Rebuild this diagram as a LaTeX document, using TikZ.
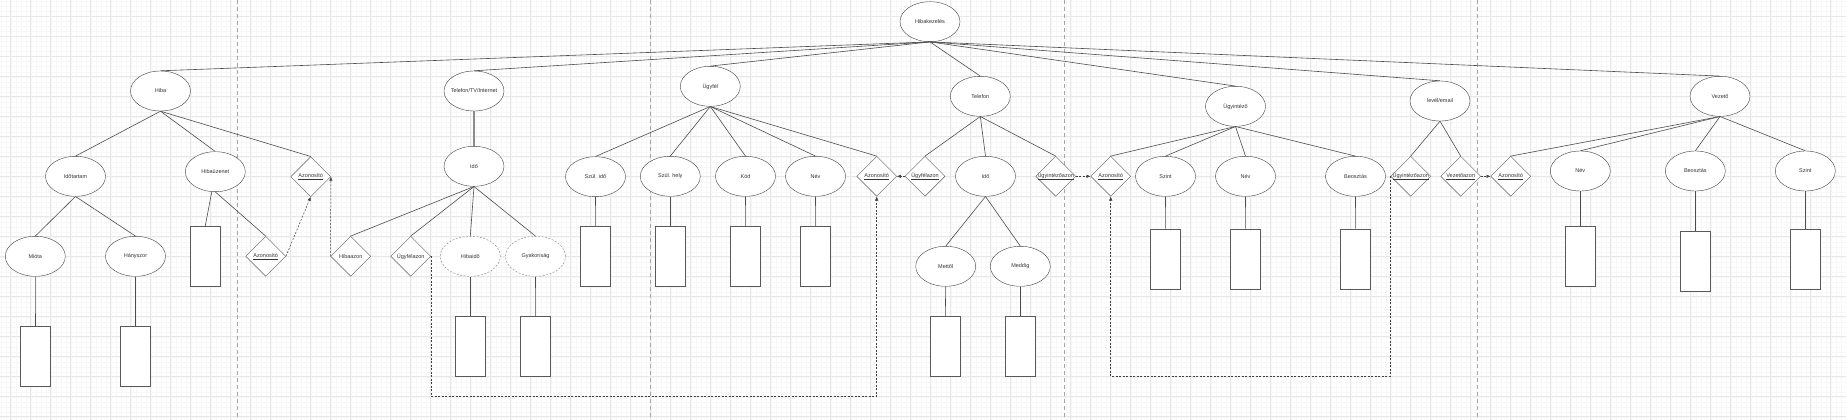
\documentclass[tikz,border=0pt]{standalone}
\usepackage{fontspec}
\setmainfont{Liberation Sans}
\usetikzlibrary{shapes.geometric, arrows.meta}
\newcommand{\nolen}[1]{\makebox[0pt]{#1}}

\begin{document}
\begin{tikzpicture}[
    x=1pt, y=-1pt,
    every node/.style={font=\fontsize{5.5}{6}\selectfont, text=black!80},
    ent/.style={ellipse, draw=black!75, fill=white, minimum width=60pt, minimum height=40pt, inner sep=0pt},
    dent/.style={ent, draw=black!50, dash pattern=on 2pt off 1.5pt},
    rel/.style={diamond, draw=black!65, fill=white, minimum width=40pt, minimum height=40pt, inner sep=0pt},
    attr/.style={rectangle, draw=black!65, fill=white, minimum width=30pt, minimum height=60pt, inner sep=0pt},
    link/.style={draw=black!70, line width=0.6pt},
    refarrow/.style={-{Latex[length=4pt,width=3.5pt]}, draw=black!75, line width=0.5pt, dash pattern=on 2pt off 1.5pt}
  ]
    % background grid and page breaks
    \useasboundingbox (0,0) rectangle (1846,420);
    \fill[white] (0,0) rectangle (1846,420);
    \foreach \gx in {0.7,5.7,...,1846} \draw[black!3, line width=0.4pt] (\gx,0) -- (\gx,420);
    \foreach \gy in {1.7,6.7,...,420} \draw[black!3, line width=0.4pt] (0,\gy) -- (1846,\gy);
    \foreach \gx in {10.7,30.7,...,1846} \draw[black!9, line width=0.5pt] (\gx,0) -- (\gx,420);
    \foreach \gy in {16.7,36.7,...,420} \draw[black!9, line width=0.5pt] (0,\gy) -- (1846,\gy);
    \foreach \px in {237.3,650,1064.3,1477.3} \draw[black!35, line width=0.5pt, dash pattern=on 4pt off 3pt] (\px,0) -- (\px,420);

    % entities
    \node[ent] (hk) at (930,21.7) {Hibakezelés};
    \node[ent] (hiba) at (160.5,91) {Hiba};
    \node[ent] (tti) at (474,91) {\nolen{Telefon/TV/Internet}};
    \node[ent] (ugyfel) at (710.3,86.3) {Ügyfél};
    \node[ent] (telefon) at (980.3,96.3) {Telefon};
    \node[ent] (ugyint) at (1235.5,106.3) {Ügyintéző};
    \node[ent] (level) at (1440,101) {levél/email};
    \node[ent] (vezeto) at (1720,96.3) {Vezető};

    % Hiba
    \node[ent] (idotartam) at (75.5,176.3) {Időtartam};
    \node[ent] (hibauz) at (215.3,171.7) {Hibaüzenet};
    \node[rel] (azhiba) at (310.7,176.7) {\underline{Azonosító}};
    \node[ent] (miota) at (35.3,256.3) {Mióta};
    \node[ent] (hanyszor) at (135.5,256.3) {Hányszor};
    \node[attr] (miotabox) at (35.5,356.3) {};
    \node[attr] (hanyszorbox) at (135.5,356.3) {};
    \node[attr] (hibauzbox) at (205.3,256) {};
    \node[rel] (azhibauz) at (265.7,256.3) {\underline{Azonosító}};

    % Telefon/TV/Internet
    \node[ent] (ido) at (474,166.3) {Idő};
    \node[rel] (hibaazon) at (350.7,256.3) {Hibaazon};
    \node[rel] (ugyfazon) at (410.7,256.3) {Ügyfélazon};
    \node[dent] (hibaido) at (470.3,256.3) {Hibaidő};
    \node[dent] (gyakorisag) at (535.5,256.3) {Gyakoriság};
    \node[attr] (hibaidobox) at (470.3,346.3) {};
    \node[attr] (gyakbox) at (535.3,346.3) {};

    % Ügyfél
    \node[ent] (szulido) at (595.5,176.7) {Szül. idő};
    \node[ent] (szulhely) at (670.3,176.3) {Szül. hely};
    \node[ent] (kod) at (745.5,176.3) {Kód};
    \node[ent] (nev) at (815.5,176.3) {Név};
    \node[rel] (azugyfel) at (876.7,176.3) {\underline{Azonosító}};
    \node[attr] (szulidobox) at (595.3,256) {};
    \node[attr] (szulhelybox) at (670.3,256) {};
    \node[attr] (kodbox) at (745.3,256) {};
    \node[attr] (nevbox) at (815.3,256) {};

    % Telefon
    \node[rel] (telugyf) at (925,176.3) {\underline{Ügyfélazon}};
    \node[ent] (telido) at (985.5,176.3) {Idő};
    \node[rel] (telugyint) at (1055.7,176.3) {\nolen{\underline{Ügyintézőazon}}};
    \node[ent] (mettol) at (945.7,266.3) {Mettől};
    \node[ent] (meddig) at (1020.3,266.3) {Meddig};
    \node[attr] (mettolbox) at (945.3,346.3) {};
    \node[attr] (meddigbox) at (1020.3,346.3) {};

    % Ügyintéző
    \node[rel] (azugyint) at (1110.7,176.3) {\underline{Azonosító}};
    \node[ent] (szint) at (1165.5,176.3) {Szint};
    \node[ent] (uinev) at (1245.5,176.3) {Név};
    \node[ent] (beosztas) at (1355.5,176.3) {Beosztás};
    \node[attr] (szintbox) at (1165.3,258.7) {};
    \node[attr] (uinevbox) at (1245.3,258.7) {};
    \node[attr] (beosztasbox) at (1355.3,258.7) {};

    % levél/email
    \node[rel] (levugyint) at (1410.7,176.3) {\nolen{\underline{Ügyintézőazon}}};
    \node[rel] (levvez) at (1460.7,176.3) {\underline{Vezetőazon}};

    % Vezető
    \node[rel] (azvez) at (1510.7,176.3) {\underline{Azonosító}};
    \node[ent] (veznev) at (1580.3,171) {Név};
    \node[ent] (vezbeo) at (1695.3,171) {Beosztás};
    \node[ent] (vezszint) at (1805.3,171) {Szint};
    \node[attr] (veznevbox) at (1580.3,256) {};
    \node[attr] (vezbeobox) at (1695.3,261.3) {};
    \node[attr] (vezszintbox) at (1805.3,258.7) {};

    % links
    \draw[link] (hk.south) -- (hiba.north);
    \draw[link] (hk.south) -- (tti.north);
    \draw[link] (hk.south) -- (ugyfel.north);
    \draw[link] (hk.south) -- (telefon.north);
    \draw[link] (hk.south) -- (ugyint.north);
    \draw[link] (hk.south) -- (level.north);
    \draw[link] (hk.south) -- (vezeto.north);

    \draw[link] (hiba.south) -- (idotartam.north);
    \draw[link] (hiba.south) -- (hibauz.north);
    \draw[link] (hiba.south) -- (azhiba.north);
    \draw[link] (idotartam.south) -- (miota.north);
    \draw[link] (idotartam.south) -- (hanyszor.north);
    \draw[link] (miota.south) -- (miotabox.north);
    \draw[link] (hanyszor.south) -- (hanyszorbox.north);
    \draw[link] (hibauz.260) -- (hibauzbox.north);
    \draw[link] (hibauz.south) -- (azhibauz.north);

    \draw[black!45, line width=1.2pt] (tti.south) -- (ido.north);
    \draw[link] (ido.south) -- (hibaazon.north);
    \draw[link] (ido.south) -- (ugyfazon.north);
    \draw[link] (ido.south) -- (hibaido.north);
    \draw[link] (ido.south) -- (gyakorisag.north);
    \draw[link] (hibaido.south) -- (hibaidobox.north);
    \draw[link] (gyakorisag.south) -- (gyakbox.north);

    \draw[link] (ugyfel.south) -- (szulido.north);
    \draw[link] (ugyfel.south) -- (szulhely.north);
    \draw[link] (ugyfel.south) -- (kod.north);
    \draw[link] (ugyfel.south) -- (nev.north);
    \draw[link] (ugyfel.south) -- (azugyfel.north);
    \draw[link] (szulido.south) -- (szulidobox.north);
    \draw[link] (szulhely.south) -- (szulhelybox.north);
    \draw[link] (kod.south) -- (kodbox.north);
    \draw[link] (nev.south) -- (nevbox.north);

    \draw[link] (telefon.south) -- (telugyf.north);
    \draw[link] (telefon.south) -- (telido.north);
    \draw[link] (telefon.south) -- (telugyint.north);
    \draw[link] (telido.south) -- (mettol.north);
    \draw[link] (telido.south) -- (meddig.north);
    \draw[link] (mettol.south) -- (mettolbox.north);
    \draw[link] (meddig.south) -- (meddigbox.north);

    \draw[link] (ugyint.south) -- (azugyint.north);
    \draw[link] (ugyint.south) -- (szint.north);
    \draw[link] (ugyint.south) -- (uinev.north);
    \draw[link] (ugyint.south) -- (beosztas.north);
    \draw[link] (szint.south) -- (szintbox.north);
    \draw[link] (uinev.south) -- (uinevbox.north);
    \draw[link] (beosztas.south) -- (beosztasbox.north);

    \draw[link] (level.south) -- (levugyint.north);
    \draw[link] (level.south) -- (levvez.north);

    \draw[link] (vezeto.south) -- (azvez.north);
    \draw[link] (vezeto.south) -- (veznev.north);
    \draw[link] (vezeto.south) -- (vezbeo.north);
    \draw[link] (vezeto.south) -- (vezszint.north);
    \draw[link] (veznev.south) -- (veznevbox.north);
    \draw[link] (vezbeo.south) -- (vezbeobox.north);
    \draw[link] (vezszint.south) -- (vezszintbox.north);

    % references
    \draw[refarrow] (azhibauz.east) -- (azhiba.south);
    \draw[refarrow] (hibaazon.west) -- (azhiba.east);
    \draw[refarrow] (ugyfazon.east) -- ++(0,139.7) -| (azugyfel.south);
    \draw[refarrow] (telugyf.west) -- (azugyfel.east);
    \draw[refarrow] (telugyint.east) -- (azugyint.west);
    \draw[refarrow] (levugyint.west) -- ++(0,199.7) -| (azugyint.south);
    \draw[refarrow] (levvez.east) -- (azvez.west);
  \end{tikzpicture}
\end{document}
